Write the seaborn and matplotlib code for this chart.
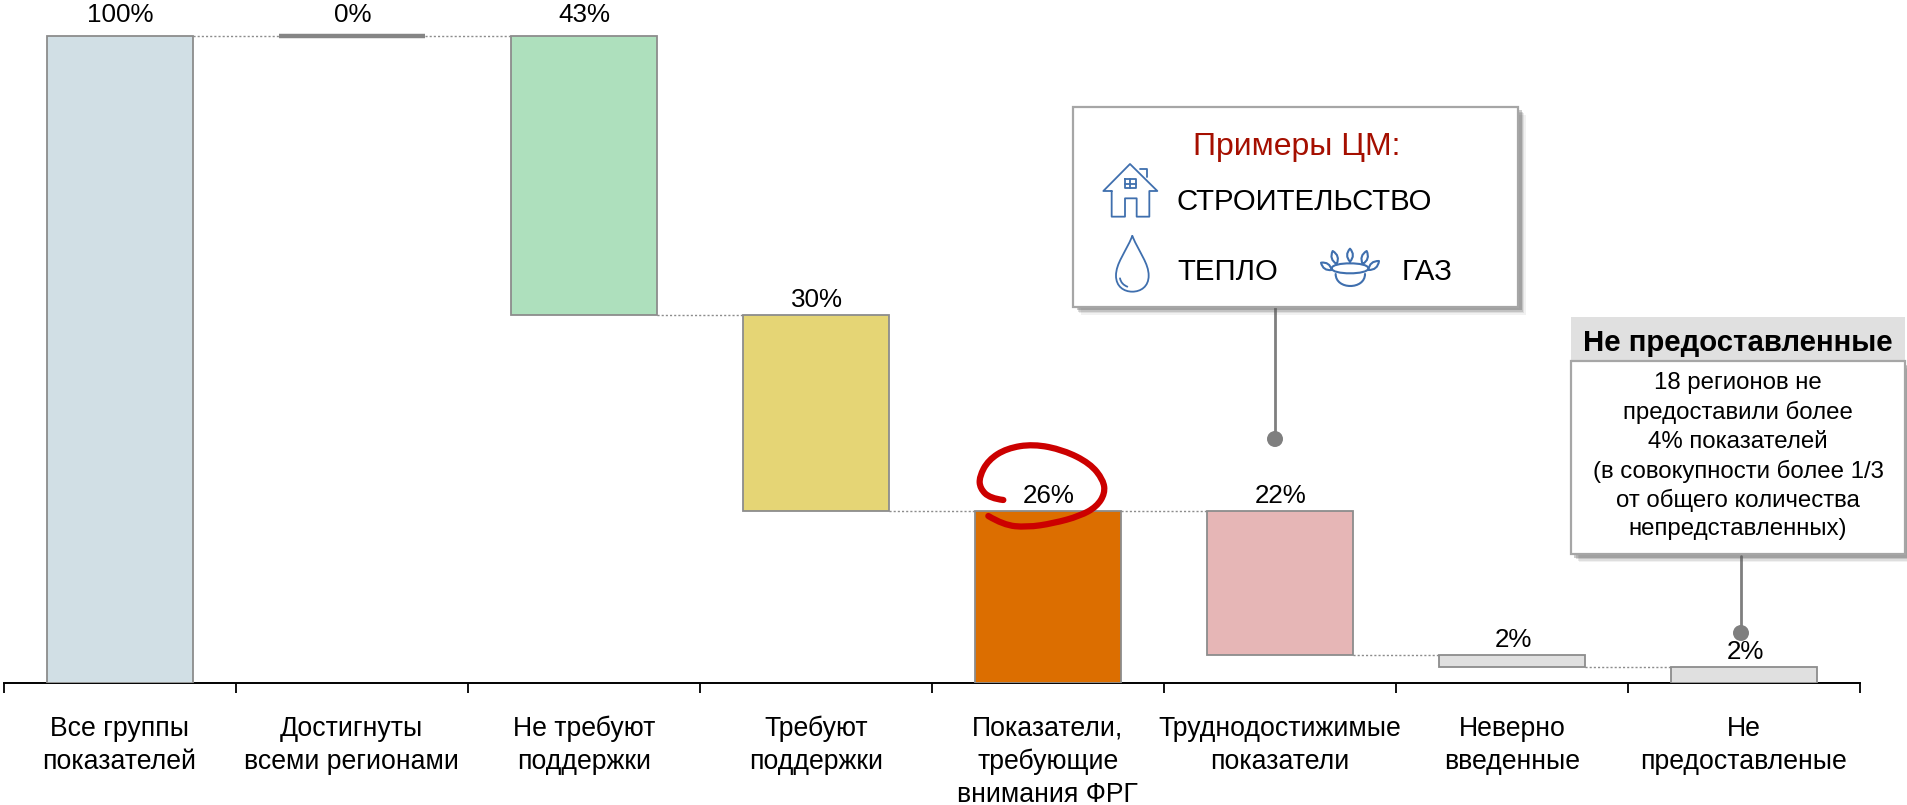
import matplotlib
matplotlib.use("Agg")
import matplotlib.pyplot as plt
import seaborn as sns
from matplotlib.patches import Rectangle, PathPatch, Ellipse
from matplotlib.lines import Line2D
from matplotlib.path import Path

sns.set_theme(style="white")
plt.rcParams['font.family'] = ['Liberation Sans', 'DejaVu Sans']

# Данные
categorias = ['Все группы\nпоказателей', 'Достигнуты\nвсеми регионами', 'Не требуют\nподдержки',
              'Требуют\nподдержки', 'Показатели,\nтребующие\nвнимания ФРГ', 'Труднодостижимые\nпоказатели',
              'Неверно\nвведенные', 'Не\nпредоставленые']
etiquetas = ['100%', '0%', '43%', '30%', '26%', '22%', '2%', '2%']
tope = [100, 100, 100, 56.8, 26.5, 26.5, 4.3, 2.4]
base = [0, 100, 56.8, 26.5, 0, 4.3, 2.4, 0]
colores = ['#d1dfe5', '#858585', '#aee0bd', '#e5d575', '#dc6e00', '#e6b6b6', '#e0e0e0', '#e0e0e0']

W, H = 1908, 805
AZUL = '#3f6fae'
GRIS = '#7f7f7f'

fig = plt.figure(figsize=(W / 100, H / 100), dpi=100, facecolor='white')
ax = fig.add_axes([3.6 / W, (H - 682.6) / H, (1860 - 3.6) / W, 682.6 / H])

alturas = [t - b for t, b in zip(tope, base)]
sns.barplot(x=categorias, y=alturas, hue=categorias, palette=colores, legend=False, dodge=False, saturation=1,
            width=0.63, edgecolor='#8c8c8c', linewidth=1.3, ax=ax, zorder=3)

# Waterfall: mover cada barra a su base
for barra, b in zip(ax.patches, base):
    barra.set_y(b)
ax.patches[1].set_linewidth(3.2)
ax.patches[1].set_edgecolor('#858585')

ax.set_xlim(-0.5, 7.5)
ax.set_ylim(0, 105.57)
ax.set_yticks([])
ax.set_ylabel('')

# Conectores punteados
for i in range(7):
    ax.plot([i + 0.315, i + 1 - 0.315], [tope[i + 1], tope[i + 1]], color='#8c8c8c', lw=1, ls=(0, (1.5, 1.5)), zorder=2)

# Etiquetas de valor
for i, txt in enumerate(etiquetas):
    desplaz = 15 if tope[i] >= 100 else 10.8
    ax.annotate(txt, (i, tope[i]), xytext=(0.8, desplaz), textcoords='offset points',
                ha='center', va='center', fontsize=18.7, color='black', zorder=6)

# Eje X
ax.set_xticks(range(8))
ax.set_xticklabels(categorias, fontsize=19.2, color='black', linespacing=1.33)
ax.set_xticks([i - 0.5 for i in range(9)], minor=True)
ax.tick_params(axis='x', which='major', length=0, pad=24)
ax.tick_params(axis='x', which='minor', length=7, width=1.3, color='black', direction='out', bottom=True)
sns.despine(ax=ax, left=True)
ax.spines['bottom'].set_color('black')
ax.spines['bottom'].set_linewidth(1.4)


# Helpers en pixeles de la imagen
def fx(x):
    return x / W


def fy(y):
    return 1 - y / H


def caja(x0, y0, x1, y1, z=5, **kw):
    r = Rectangle((fx(x0), fy(y1)), (x1 - x0) / W, (y1 - y0) / H, transform=fig.transFigure, zorder=z, **kw)
    fig.add_artist(r)


def sombra(x0, y0, x1, y1):
    for d, a in [(8, 0.08), (6.5, 0.12), (5, 0.2), (3.5, 0.3)]:
        caja(x0 + d, y0 + d, x1 + d, y1 + d, z=4, facecolor='#555555', edgecolor='none', alpha=a)


def texto(x, y, s, **kw):
    fig.text(fx(x), fy(y), s, va='center', zorder=7, **kw)


def trazo(puntos, codigos=None, color=AZUL, lw=1.3, fill='none', z=7):
    pts = [(fx(x), fy(y)) for x, y in puntos]
    p = PathPatch(Path(pts, codigos), transform=fig.transFigure, facecolor=fill, edgecolor=color, lw=lw,
                  zorder=z, capstyle='round', joinstyle='round')
    fig.add_artist(p)


def punto(x, y):
    fig.add_artist(Ellipse((fx(x), fy(y)), 16 / W, 16 / H, transform=fig.transFigure, facecolor=GRIS, edgecolor='none', zorder=6))


# Callout "Примеры ЦМ"
fig.add_artist(Line2D([fx(1275), fx(1275)], [fy(307), fy(439)], color=GRIS, lw=2, zorder=4))
punto(1275, 439)
sombra(1073, 107, 1518, 307)
caja(1073, 107, 1518, 307, facecolor='white', edgecolor='#a6a6a6', lw=1.6)
texto(1297, 147.5, 'Примеры ЦМ:', ha='center', color='#a50f00', fontsize=23)
texto(1177, 202.5, 'СТРОИТЕЛЬСТВО', ha='left', color='black', fontsize=21.2)
texto(1177, 272.5, 'ТЕПЛО', ha='left', color='black', fontsize=21.2)
texto(1402, 272.5, 'ГАЗ', ha='left', color='black', fontsize=21.2)


def z1(x, y):
    return 1060 + x / 3, 90 + y / 3


# casa
trazo([z1(*p) for p in [(155, 303), (130, 303), (210, 222), (292, 303), (268, 303), (268, 380), (230, 380),
                        (230, 325), (195, 325), (195, 380), (155, 380), (155, 303)]])
trazo([z1(*p) for p in [(240, 237), (262, 237), (262, 260)]])
trazo([z1(*p) for p in [(195, 268), (228, 268), (228, 295), (195, 295), (195, 268)]])
trazo([z1(*p) for p in [(211, 268), (211, 295)]])
trazo([z1(*p) for p in [(195, 281), (228, 281)]])

# gota
C4 = Path.CURVE4
trazo([z1(*p) for p in [(217, 438), (195, 490), (168, 520), (168, 557), (168, 590), (192, 605), (217, 605),
                        (242, 605), (266, 590), (266, 557), (266, 520), (239, 490), (217, 438)]],
      [Path.MOVETO] + [C4] * 12)
trazo([z1(*p) for p in [(180, 565), (183, 578), (190, 585), (202, 590)]], [Path.MOVETO, C4, C4, C4])

# quemador
trazo([z1(*p) for p in [(815, 535), (815, 515), (925, 515), (925, 535), (925, 555), (815, 555), (815, 535)]],
      [Path.MOVETO] + [C4] * 6, lw=1.5)
trazo([z1(*p) for p in [(827, 552), (827, 600), (915, 600), (915, 552)]], [Path.MOVETO, C4, C4, C4], lw=1.5)
for (bx, by, px, py) in [(830, 522, 818, 483), (870, 515, 870, 476), (908, 522, 920, 483), (815, 540, 783, 518), (925, 540, 957, 513)]:
    mx, my = (bx + px) / 2, (by + py) / 2
    dx, dy = (py - by) * 0.45, (bx - px) * 0.45
    trazo([z1(*p) for p in [(bx, by), (mx + dx, my + dy), (px, py), (mx - dx, my - dy), (bx, by)]],
          [Path.MOVETO, Path.CURVE3, Path.CURVE3, Path.CURVE3, Path.CURVE3], lw=1.5)

# Callout "Не предоставленные"
fig.add_artist(Line2D([fx(1741), fx(1741)], [fy(556), fy(633)], color=GRIS, lw=2, zorder=4))
punto(1741, 633)
sombra(1571, 361, 1905, 554)
caja(1571, 317, 1905, 361, facecolor='#e0e0e0', edgecolor='none')
caja(1571, 361, 1905, 554, facecolor='white', edgecolor='#a6a6a6', lw=1.6)
texto(1738, 342.5, 'Не предоставленные', ha='center', color='black', fontsize=21.2, fontweight='bold')
lineas = ['18 регионов не', 'предоставили более', '4% показателей', '(в совокупности более 1/3',
          'от общего количества', 'непредставленных)']
for s, y in zip(lineas, [383, 412, 442, 471, 500, 529]):
    texto(1738, y, s, ha='center', color='black', fontsize=17.3)

# Garabato rojo alrededor de 26%
garabato = [(190, 210), (150, 205), (120, 175), (118, 140), (145, 90), (200, 55), (280, 42), (370, 60), (450, 100),
            (490, 150), (495, 190), (470, 230), (420, 258), (340, 280), (260, 292), (190, 285), (145, 258)]
garabato = [(940 + x / 3, 430 + y / 3) for x, y in garabato]
pts = [garabato[0]]
cod = [Path.MOVETO]
for a, b in zip(garabato[1:-1], garabato[2:]):
    pts += [a, ((a[0] + b[0]) / 2, (a[1] + b[1]) / 2)]
    cod += [Path.CURVE3, Path.CURVE3]
pts[-1] = garabato[-1]
trazo(pts, cod, color='#cc0000', lw=4.5, z=8)

fig.savefig('out.png', dpi=100)
